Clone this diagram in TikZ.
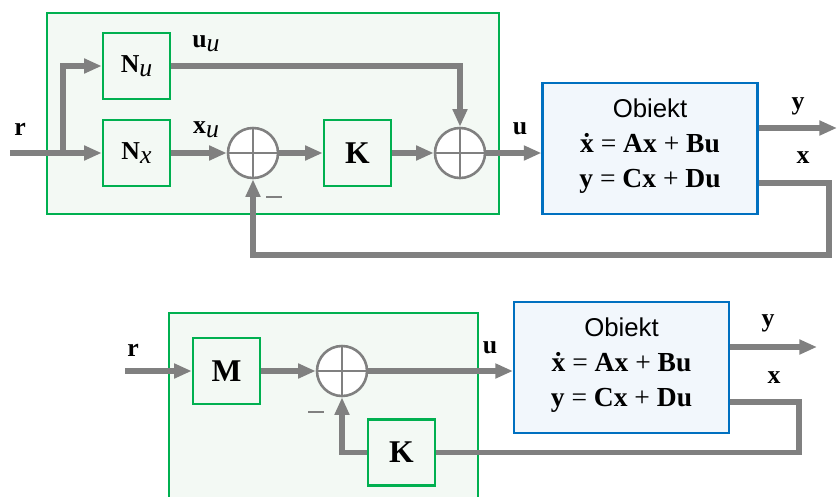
\documentclass[tikz,border=0pt]{standalone}
\usepackage{fontspec}
\setmainfont{Liberation Serif}
\newfontfamily\objfont{Liberation Sans}
\usetikzlibrary{arrows.meta, calc}
\definecolor{cgrey}{HTML}{808080}
\definecolor{cgreen}{HTML}{00B050}
\definecolor{cpale}{HTML}{F3F9F4}
\definecolor{cblue}{HTML}{0070C0}
\definecolor{csky}{HTML}{F2F7FC}
\newcommand{\lowsub}[1]{\raisebox{-0.3ex}{\normalfont\itshape #1}}
\newcommand{\eqtop}{\textbf{\.x} = \textbf{Ax} + \textbf{Bu}}
\newcommand{\eqbot}{\textbf{y} = \textbf{Cx} + \textbf{Du}}
\tikzset{
  every picture/.style={x=0.03cm, y=-0.03cm},
  region/.style={draw=cgreen, fill=cpale, line width=1.5pt},
  blk/.style={draw=cgreen, line width=2.2pt, minimum width=2.01cm, minimum height=1.98cm, inner sep=0pt, font=\fontsize{22}{24}\selectfont},
  bigblk/.style={blk, font=\fontsize{27}{30}\selectfont\bfseries},
  sumnode/.style={circle, draw=cgrey, fill=white, line width=2.2pt, minimum size=1.5cm, inner sep=0pt,
    path picture={\draw[cgrey, line width=2.2pt] (path picture bounding box.north) -- (path picture bounding box.south)
      (path picture bounding box.west) -- (path picture bounding box.east);}},
  plant/.style={draw=cblue, fill=csky, line width=1.8pt, minimum width=6.45cm, minimum height=3.93cm, inner sep=0pt},
  plantxt/.style={align=center, inner sep=0pt, font=\fontsize{23.5}{30}\selectfont},
  sig/.style={-{Triangle[length=15pt, width=12pt]}, draw=cgrey, line width=5pt},
  wire/.style={draw=cgrey, line width=5pt},
  lbl/.style={font=\fontsize{22}{24}\selectfont\bfseries, inner sep=0pt},
  minus/.style={fill=cgrey, minimum width=0.5cm, minimum height=2.5pt, inner sep=0pt},
}

\begin{document}
\begin{tikzpicture}
  \useasboundingbox (0,0) rectangle (837,496);
  \clip (0,0) rectangle (837,496);
  \begin{scope}
    \draw[region] (47,13) rectangle (499,214);
    \node[blk] (Nu) at (136.5,66) {\textbf{N}\lowsub{u}};
    \node[blk] (Nx) at (136.5,153) {\textbf{N}\lowsub{x}};
    \node[sumnode] (sA) at (253,153) {};
    \node[bigblk] (Ka) at (357.5,153) {K};
    \node[sumnode] (sB) at (460,153) {};
    \node[plant] (objA) at (650,148.5) {};
    \node[plantxt] (eqA) at (650,146) {{\objfont\fontsize{22}{24}\selectfont Obiekt}\\ \eqtop\\ \eqbot};
    \coordinate (rA) at (10,153);
    \coordinate (brA) at (63,153);
    \coordinate (yA) at (837,128);
    \coordinate (xA) at (829,183);
    \coordinate (fbA) at (829,255);
    \draw[sig] (rA) -- (Nx);
    \draw[sig] (brA) |- (Nu.west);
    \draw[sig] (Nx) -- (sA);
    \draw[sig] (sA) -- (Ka);
    \draw[sig] (Ka) -- (sB);
    \draw[sig] (Nu.east) -| (sB.north);
    \draw[sig] (sB.east) -- (objA.west |- sB.east);
    \draw[sig] (objA.east |- yA) -- (yA);
    \draw[sig] (objA.east |- xA) -- (xA) -- (fbA) -| (sA.south);
    \node[lbl] (rlA) at (20,129) {r};
    \node[lbl] (uuA) at (206,44) {u\lowsub{u}};
    \node[lbl] (xuA) at (206,130) {x\lowsub{u}};
    \node[lbl] (ulA) at (520,129) {u};
    \node[lbl] (ylA) at (798,106) {y};
    \node[lbl] (xlA) at (803,158) {x};
    \node[minus] (mA) at (274,197) {};
  \end{scope}
  \begin{scope}
    \draw[region] (169,313) rectangle (478,520);
    \node[bigblk] (M) at (226.5,371) {M};
    \node[sumnode] (sC) at (342,371) {};
    \node[bigblk] (Kb) at (401.5,452.5) {K};
    \node[plant] (objB) at (621.5,367.5) {};
    \node[plantxt] (eqB) at (621.5,365) {{\objfont\fontsize{22}{24}\selectfont Obiekt}\\ \eqtop\\ \eqbot};
    \coordinate (rB) at (125,371);
    \coordinate (yB) at (817,347);
    \coordinate (xB) at (799,402);
    \coordinate (fbB) at (799,452.5);
    \draw[sig] (rB) -- (M);
    \draw[sig] (M) -- (sC);
    \draw[sig] (sC) -- (sC -| objB.west);
    \draw[sig] (objB.east |- yB) -- (yB);
    \draw[wire] (objB.east |- xB) -- (xB) -- (fbB) -- (Kb.east);
    \draw[sig] (Kb.west) -| (sC.south);
    \node[lbl] (rlB) at (133,350) {r};
    \node[lbl] (ulB) at (490,348) {u};
    \node[lbl] (ylB) at (768,323) {y};
    \node[lbl] (xlB) at (774,378) {x};
    \node[minus] (mB) at (316,412) {};
  \end{scope}
\end{tikzpicture}
\end{document}
